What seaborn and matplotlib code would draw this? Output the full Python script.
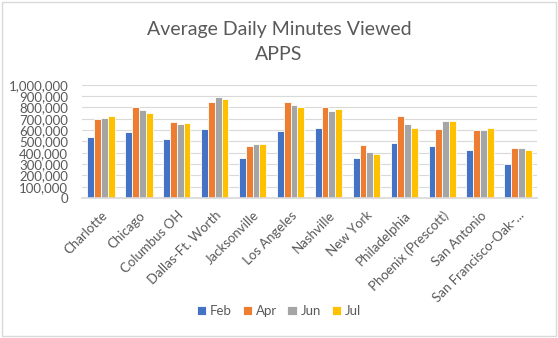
import matplotlib
matplotlib.use("Agg")
import matplotlib.pyplot as plt
import seaborn as sns
import pandas as pd
from matplotlib.patches import Rectangle
from matplotlib.ticker import FuncFormatter

cities = ["Charlotte", "Chicago", "Columbus OH", "Dallas-Ft. Worth", "Jacksonville",
          "Los Angeles", "Nashville", "New York", "Philadelphia", "Phoenix (Prescott)",
          "San Antonio", "San Francisco-Oak-..."]
months = ["Feb", "Apr", "Jun", "Jul"]
feb = [538000, 579000, 521000, 609000, 350000, 591000, 615000, 350000, 485000, 462000, 426000, 303000]
apr = [697000, 803000, 674000, 850000, 462000, 844000, 803000, 468000, 721000, 609000, 603000, 444000]
jun = [709000, 774000, 656000, 894000, 479000, 821000, 768000, 403000, 650000, 679000, 597000, 444000]
jul = [721000, 750000, 662000, 874000, 479000, 803000, 785000, 391000, 621000, 679000, 615000, 426000]
colors = ["#4472C4", "#ED7D31", "#A5A5A5", "#FFC000"]

rows = []
for m, vals in zip(months, [feb, apr, jun, jul]):
    for c, v in zip(cities, vals):
        rows.append({"City": c, "Month": m, "Value": v})
df = pd.DataFrame(rows)

sns.set_theme(style="white")
plt.rcParams['font.family'] = ['Lato', 'DejaVu Sans']
txt = "#595959"

fig = plt.figure(figsize=(5.58, 3.38), dpi=100)
ax = fig.add_axes([82/558, 1-198/338, 455/558, 113.3/338])
sns.barplot(data=df, x="City", y="Value", hue="Month", hue_order=months,
            palette=colors, saturation=1, width=0.72, edgecolor="white", linewidth=0.6,
            errorbar=None, ax=ax, legend=True)
ax.set_ylim(0, 1000000)
ax.set_yticks(range(0, 1000001, 100000))
ax.yaxis.set_major_formatter(FuncFormatter(lambda v, p: f"{int(v):,}"))
ax.grid(axis="y", color="#D9D9D9", linewidth=0.8)
ax.set_axisbelow(True)
for s in ["top", "right", "left"]:
    ax.spines[s].set_visible(False)
ax.spines["bottom"].set_color("#D9D9D9")
ax.set_xlabel("")
ax.set_ylabel("")
ax.set_xlim(-0.5, len(cities) - 0.5)
ax.tick_params(axis="y", labelsize=9.5, colors=txt, length=0, pad=10)
ax.tick_params(axis="x", labelsize=9.5, colors=txt, length=0, pad=8)
plt.setp(ax.get_xticklabels(), rotation=45, ha="right", rotation_mode="anchor")

handles, labels = ax.get_legend_handles_labels()
ax.legend_.remove()
fig.legend(handles, labels, loc="center", bbox_to_anchor=(279/558, 1-311/338), ncol=4,
           frameon=False, fontsize=9.5, labelcolor=txt, handlelength=0.7, handleheight=0.7,
           handletextpad=0.3, columnspacing=0.8)

fig.text(279/558, 1-30/338, "Average Daily Minutes Viewed", ha="center", va="center",
         fontsize=14, color=txt)
fig.text(279/558, 1-55/338, "APPS", ha="center", va="center", fontsize=14, color=txt)

fig.patches.append(Rectangle((2/558, 2/338), 554/558, 334/338, transform=fig.transFigure,
                             fill=False, edgecolor="#D9D9D9", linewidth=1))
fig.savefig("out.png", dpi=100)
